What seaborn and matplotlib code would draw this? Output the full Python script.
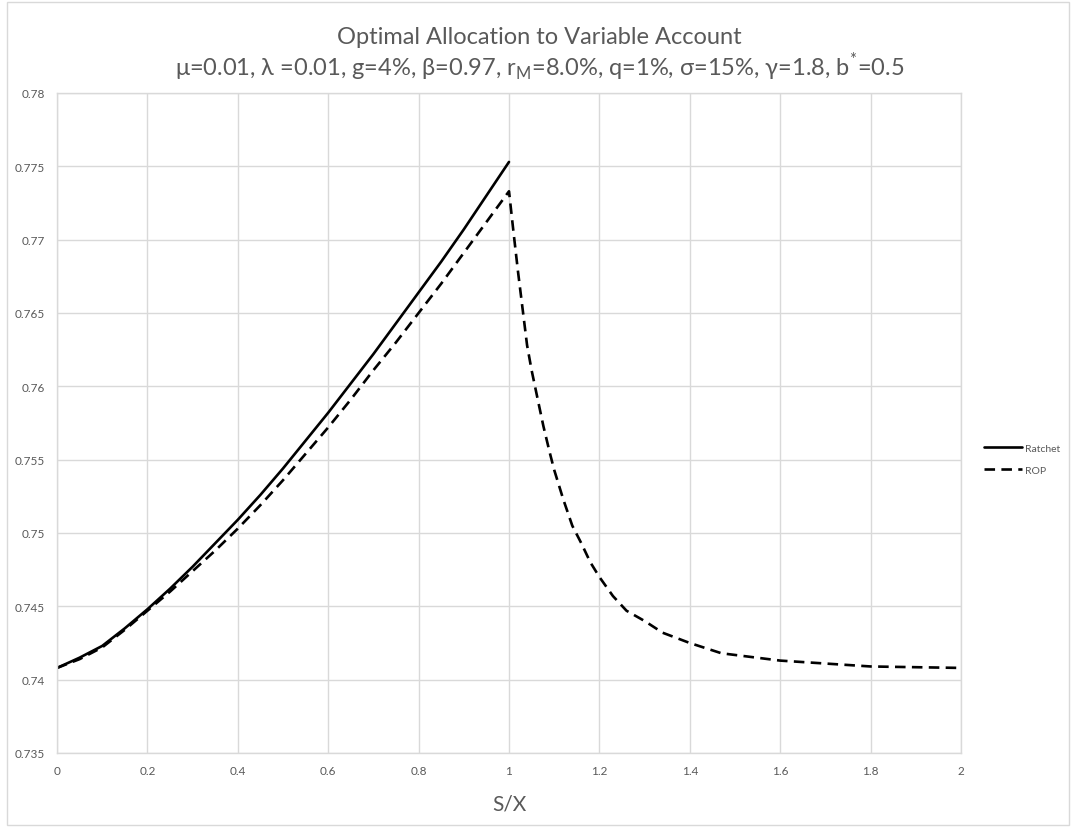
import matplotlib

matplotlib.use("Agg")
import matplotlib.pyplot as plt
import pandas as pd
import seaborn as sns
from matplotlib.patches import Rectangle

# values
ratchet_x = [0.0, 0.05, 0.1, 0.15, 0.2, 0.25, 0.3, 0.35, 0.4, 0.45, 0.5,
             0.55, 0.6, 0.65, 0.7, 0.75, 0.8, 0.85, 0.9, 0.95, 1.0]
ratchet_y = [0.7408, 0.7415, 0.7423, 0.7435, 0.7448, 0.7462, 0.7477, 0.7493,
             0.7509, 0.7526, 0.7544, 0.7563, 0.7582, 0.7602, 0.7622, 0.7643,
             0.7664, 0.7685, 0.7707, 0.7730, 0.7753]

rop_x = [0.0, 0.05, 0.1, 0.15, 0.2, 0.25, 0.3, 0.35, 0.4, 0.45, 0.5,
         0.55, 0.6, 0.65, 0.7, 0.75, 0.8, 0.85, 0.9, 0.95, 1.0,
         1.01, 1.02, 1.03, 1.04, 1.05, 1.065, 1.076, 1.09, 1.10, 1.12,
         1.14, 1.16, 1.18, 1.2, 1.23, 1.26, 1.3, 1.34, 1.4, 1.47, 1.6,
         1.7, 1.8, 1.9, 2.0]
rop_y = [0.7408, 0.7414, 0.7422, 0.7434, 0.7447, 0.7460, 0.7474, 0.7488,
         0.7503, 0.7519, 0.7536, 0.7554, 0.7572, 0.7591, 0.7611, 0.7630,
         0.7650, 0.7670, 0.7691, 0.7712, 0.7733,
         0.7705, 0.7678, 0.7653, 0.7628, 0.7611, 0.7589, 0.7573, 0.7555,
         0.7543, 0.7523, 0.7505, 0.7493, 0.7480, 0.7470, 0.7457, 0.7447,
         0.7440, 0.7432, 0.7425, 0.7418, 0.7413, 0.7411, 0.7409, 0.74085,
         0.7408]

x_ticks = [0, 0.2, 0.4, 0.6, 0.8, 1, 1.2, 1.4, 1.6, 1.8, 2]
x_tick_labels = ["0", "0.2", "0.4", "0.6", "0.8", "1", "1.2", "1.4", "1.6", "1.8", "2"]
y_ticks = [0.735, 0.74, 0.745, 0.75, 0.755, 0.76, 0.765, 0.77, 0.775, 0.78]
y_tick_labels = ["0.735", "0.74", "0.745", "0.75", "0.755", "0.76", "0.765",
                 "0.77", "0.775", "0.78"]

title_line1 = "Optimal Allocation to Variable Account"
title_line2 = (r"μ=0.01, λ =0.01, g=4%, β=0.97, r$_{\mathregular{M}}$=8.0%, "
               r"q=1%, σ=15%, γ=1.8, b$^{\mathregular{*}}$=0.5")

df = pd.concat(
    [
        pd.DataFrame({"S/X": ratchet_x, "alloc": ratchet_y, "series": "Ratchet"}),
        pd.DataFrame({"S/X": rop_x, "alloc": rop_y, "series": "ROP"}),
    ],
    ignore_index=True,
)

sns.set_theme(style="white")
plt.rcParams["font.family"] = ["Lato", "DejaVu Sans"]
plt.rcParams["mathtext.fontset"] = "custom"
plt.rcParams["mathtext.rm"] = "Lato"

GREY_TEXT = "#595959"
GRID = "#d9d9d9"

fig = plt.figure(figsize=(10.74, 8.29), dpi=100)
ax = fig.add_axes([57 / 1074, 1 - 754 / 829, 904 / 1074, 660 / 829])

sns.lineplot(
    data=df,
    x="S/X",
    y="alloc",
    hue="series",
    style="series",
    palette={"Ratchet": "black", "ROP": "black"},
    dashes={"Ratchet": "", "ROP": (4, 2.4)},
    linewidth=1.9,
    sort=False,
    ax=ax,
)

ax.set_xlim(0, 2)
ax.set_ylim(0.735, 0.78)
ax.set_xticks(x_ticks)
ax.set_xticklabels(x_tick_labels)
ax.set_yticks(y_ticks)
ax.set_yticklabels(y_tick_labels)
ax.tick_params(axis="both", labelsize=8.5, colors=GREY_TEXT, length=0, pad=9)
ax.grid(True, color=GRID, linewidth=1.0)
ax.set_axisbelow(True)
for spine in ax.spines.values():
    spine.set_color(GRID)
    spine.set_linewidth(1.0)

ax.set_ylabel("")
ax.set_xlabel("S/X", fontsize=15, color=GREY_TEXT, labelpad=12)

fig.text(0.5025, 1 - 38 / 829, title_line1, ha="center", va="center",
         fontsize=17, color=GREY_TEXT)
fig.text(0.5025, 1 - 68 / 829, title_line2, ha="center", va="center",
         fontsize=17, color=GREY_TEXT)

handles, labels = ax.get_legend_handles_labels()
ax.legend(
    handles,
    labels,
    loc="center left",
    bbox_to_anchor=(975 / 1074, 1 - 460 / 829),
    bbox_transform=fig.transFigure,
    frameon=False,
    fontsize=7.5,
    labelcolor=GREY_TEXT,
    handlelength=3.6,
    handletextpad=0.3,
    labelspacing=1.2,
)

# outer chart border like the original
fig.patches.append(
    Rectangle((7 / 1074, 3 / 829), 1062 / 1074, 823 / 829,
              transform=fig.transFigure, fill=False, edgecolor=GRID, linewidth=1.0)
)

fig.savefig("out.png", dpi=100)
plt.close(fig)
